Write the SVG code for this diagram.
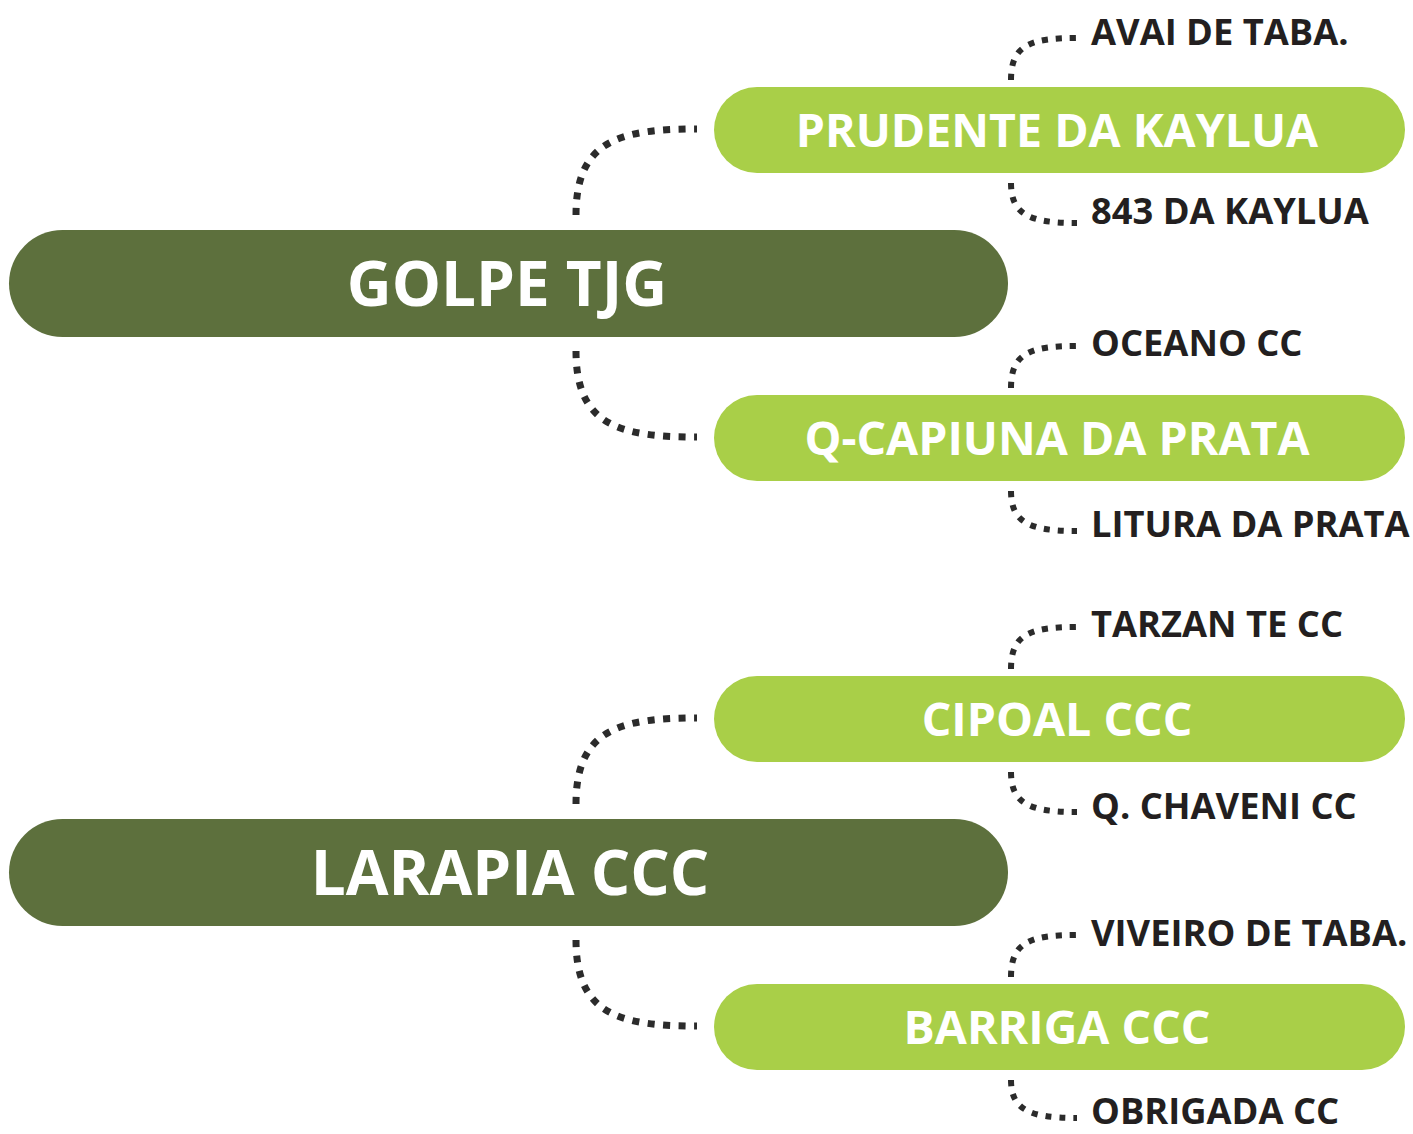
<svg xmlns="http://www.w3.org/2000/svg" width="1413" height="1134" viewBox="0 0 1413 1134">
<style>
.main{fill:#5d703d}
.sub{fill:#a9cf48}
.mt{font-family:"Open Sans","Noto Sans","DejaVu Sans",sans-serif;font-weight:700;font-size:62px;fill:#fff;text-anchor:middle}
.st{font-family:"Open Sans","Noto Sans","DejaVu Sans",sans-serif;font-weight:700;font-size:46.5px;fill:#fff;text-anchor:middle}
.lt{font-family:"Open Sans","Noto Sans","DejaVu Sans",sans-serif;font-weight:700;font-size:36.3px;fill:#231f20}
.c1{fill:none;stroke:#2b2b2b;stroke-width:7;stroke-dasharray:7 8.5}
.c2{fill:none;stroke:#2b2b2b;stroke-width:6;stroke-dasharray:6 8}
</style>
<rect width="1413" height="1134" fill="#fff"/>
<g id="connectors">
<path class="c1" d="M576,215 C576,140 620,129 697,129"/>
<path class="c1" d="M576,351 C576,426 620,437 697,437"/>
<path class="c1" d="M576,804 C576,729 620,718 697,718"/>
<path class="c1" d="M576,940 C576,1015 620,1026 697,1026"/>
<path class="c2" d="M1011,80 C1011,45 1030,38 1077,38"/>
<path class="c2" d="M1011,183 C1011,215 1030,223 1077,223"/>
<path class="c2" d="M1011,388 C1011,353 1030,346 1077,346"/>
<path class="c2" d="M1011,491 C1011,523 1030,531 1077,531"/>
<path class="c2" d="M1011,669 C1011,634 1030,627 1077,627"/>
<path class="c2" d="M1011,772 C1011,804 1030,812 1077,812"/>
<path class="c2" d="M1011,977 C1011,942 1030,935 1077,935"/>
<path class="c2" d="M1011,1080 C1011,1110 1030,1118 1077,1118"/>
</g>
<g id="golpe">
<rect class="main" x="9" y="230" width="999" height="107" rx="53.5"/>
<text class="mt" x="507" y="306">GOLPE TJG</text>
</g>
<g id="prudente">
<rect class="sub" x="714" y="87" width="691" height="86" rx="43"/>
<text class="st" x="1057" y="147">PRUDENTE DA KAYLUA</text>
</g>
<g id="capiuna">
<rect class="sub" x="714" y="395" width="691" height="86" rx="43"/>
<text class="st" x="1057" y="455">Q-CAPIUNA DA PRATA</text>
</g>
<g id="larapia">
<rect class="main" x="9" y="819" width="999" height="107" rx="53.5"/>
<text class="mt" x="510" y="895">LARAPIA CCC</text>
</g>
<g id="cipoal">
<rect class="sub" x="714" y="676" width="691" height="86" rx="43"/>
<text class="st" x="1057" y="736">CIPOAL CCC</text>
</g>
<g id="barriga">
<rect class="sub" x="714" y="984" width="691" height="86" rx="43"/>
<text class="st" x="1057" y="1044">BARRIGA CCC</text>
</g>
<g id="leaf-avai"><text class="lt" x="1091" y="45">AVAI DE TABA.</text></g>
<g id="leaf-843"><text class="lt" x="1091" y="224">843 DA KAYLUA</text></g>
<g id="leaf-oceano"><text class="lt" x="1091" y="356">OCEANO CC</text></g>
<g id="leaf-litura"><text class="lt" x="1091" y="537">LITURA DA PRATA</text></g>
<g id="leaf-tarzan"><text class="lt" x="1091" y="637">TARZAN TE CC</text></g>
<g id="leaf-chaveni"><text class="lt" x="1091" y="819">Q. CHAVENI CC</text></g>
<g id="leaf-viveiro"><text class="lt" x="1091" y="946">VIVEIRO DE TABA.</text></g>
<g id="leaf-obrigada"><text class="lt" x="1091" y="1124">OBRIGADA CC</text></g>
</svg>
